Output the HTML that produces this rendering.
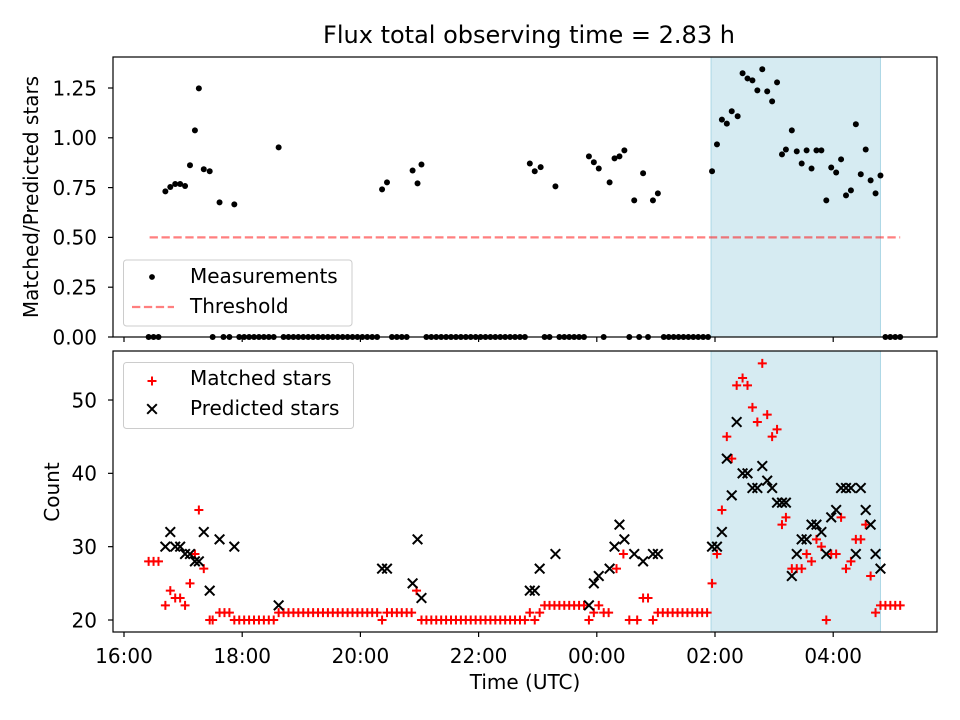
<!DOCTYPE html>
<html><head><meta charset="utf-8"><style>
html,body{margin:0;padding:0;background:#fff;}
svg{display:block;font-family:"DejaVu Sans","Liberation Sans",sans-serif;}
</style></head><body>
<svg id="chart" width="960" height="720" viewBox="0 0 960 720" xmlns="http://www.w3.org/2000/svg"></svg>
<script>
// ---- data (time in minutes since 16:00 UTC) ----
const ratioTimes = [42,47,52,57,62,67,72,76,81,87,97,112,157,262,267,293,298,302,412,417,423,438,472,477,482,493,498,503,508,518,527,537,542,597,602,607,612,617,623,628,633,638,643,648,653,658,663,668,672,678,683,688,693,698,703,708,713,718,723,728,733,738,743,748,753,758,763,768];
const ratioValues = [0.731,0.753,0.768,0.768,0.758,0.862,1.037,1.248,0.842,0.832,0.676,0.666,0.952,0.741,0.776,0.836,0.771,0.866,0.871,0.832,0.853,0.756,0.907,0.877,0.846,0.776,0.897,0.907,0.937,0.686,0.822,0.686,0.721,0.832,0.967,1.091,1.071,1.133,1.108,1.324,1.298,1.288,1.238,1.344,1.233,1.183,1.278,0.917,0.941,1.037,0.932,0.871,0.937,0.846,0.937,0.937,0.686,0.851,0.826,0.892,0.711,0.736,1.068,0.817,0.941,0.786,0.721,0.811];
const zeroTimes = [25,30,35,90,101,107,117,122,127,132,137,142,147,152,162,167,172,177,182,187,192,197,202,207,212,217,222,227,232,237,242,247,252,257,272,277,282,287,307,312,317,322,327,332,337,342,347,352,357,362,367,372,377,382,387,392,397,402,407,427,432,442,447,452,457,462,467,487,513,523,532,548,553,558,563,568,573,578,583,588,593,773,778,783,788];
const zeroValues = zeroTimes.map(()=>0);
const matchedTimes = [25,30,35,42,47,52,57,62,67,72,76,81,87,90,97,102,107,112,117,122,127,132,137,142,147,152,157,162,167,172,177,182,187,192,197,202,207,212,217,222,227,232,237,242,247,252,257,262,267,272,277,282,287,292,297,302,307,312,317,322,327,332,337,342,347,352,357,362,367,372,377,382,387,392,397,402,407,412,417,422,427,432,437,442,447,452,457,462,467,472,477,482,487,492,500,507,513,521,527,532,537,542,547,552,557,562,567,572,577,582,587,592,597,602,607,612,617,622,628,633,638,643,648,653,658,663,668,672,678,683,688,693,698,703,708,713,718,723,728,733,738,743,748,753,758,763,768,773,778,783,788];
const matchedValues = [28,28,28,22,24,23,23,22,25,29,35,27,20,20,21,21,21,20,20,20,20,20,20,20,20,20,21,21,21,21,21,21,21,21,21,21,21,21,21,21,21,21,21,21,21,21,21,20,21,21,21,21,21,21,24,20,20,20,20,20,20,20,20,20,20,20,20,20,20,20,20,20,20,20,20,20,20,21,20,21,22,22,22,22,22,22,22,22,22,20,21,22,21,21,27,29,20,20,23,23,20,21,21,21,21,21,21,21,21,21,21,21,25,29,35,45,42,52,53,52,49,47,55,48,45,46,33,34,27,27,27,29,28,31,30,20,29,29,34,27,28,31,31,33,26,21,22,22,22,22,22];
const predictedTimes = [42,47,52,57,62,67,72,76,81,87,97,112,157,262,267,293,298,302,412,417,422,438,472,477,482,493,498,503,508,518,527,537,542,597,602,607,612,617,622,628,633,638,643,648,653,658,663,668,672,678,683,688,693,698,703,708,713,718,723,728,733,738,743,748,753,758,763,768];
const predictedValues = [30,32,30,30,29,29,28,28,32,24,31,30,22,27,27,25,31,23,24,24,27,29,22,25,26,27,30,33,31,29,28,29,29,30,30,32,42,37,47,40,40,38,38,41,39,38,36,36,36,26,29,31,31,33,33,32,29,34,35,38,38,38,29,38,35,33,29,27];
const threshold = [26, 788, 0.5];
const span = [596, 768];
const xTickMinutes = [0,120,240,360,480,600,720];
const xTickLabels = ["16:00","18:00","20:00","22:00","00:00","02:00","04:00"];
const yTopTicks = [0,0.25,0.5,0.75,1.0,1.25];
const yTopLabels = ["0.00","0.25","0.50","0.75","1.00","1.25"];
const yBotTicks = [20,30,40,50];
const yBotLabels = ["20","30","40","50"];

// ---- scales ----
const L=113,R=937, T1=57,B1=337, T2=351,B2=632;
const FS=20;
const xs = m => 124 + m*59.1/60;
const y1 = v => 337 - v*199.2;
const y2 = v => 620 - (v-20)*7.333;
const svg = document.getElementById('chart');
const NS='http://www.w3.org/2000/svg';
function mk(tag, attrs, parent){const e=document.createElementNS(NS,tag);for(const k in attrs)e.setAttribute(k,attrs[k]);(parent||svg).appendChild(e);return e;}
function txt(s,x,y,attrs,parent){const e=mk('text',Object.assign({x:x,y:y,'font-size':FS,fill:'#000'},attrs),parent);e.textContent=s;return e;}

let t=txt('Flux total observing time = 2.83 h',529,43,{'font-size':24,'text-anchor':'middle'});



[[T1,B1,'top-observing-span'],[T2,B2,'bottom-observing-span']].forEach(([a,b,n])=>{
  const r=mk('rect',{x:xs(span[0]),y:a,width:xs(span[1])-xs(span[0]),height:b-a,fill:'#add8e6','fill-opacity':0.5,stroke:'#add8e6','stroke-width':1});
  
  
});

const th=mk('line',{x1:xs(threshold[0]),x2:xs(threshold[1]),y1:y1(threshold[2]),y2:y1(threshold[2]),stroke:'#ff0000','stroke-opacity':0.5,'stroke-width':2.2,'stroke-dasharray':'8.3 3.6'});



function dot(x,y){const c=mk('circle',{cx:x,cy:y,r:3,fill:'#000'});
  
  }
ratioTimes.forEach((m,i)=>dot(xs(m),y1(ratioValues[i])));
zeroTimes.forEach((m,i)=>dot(xs(m),y1(zeroValues[i])));

function plus(x,y){const p=mk('path',{d:`M${x-4.5},${y}H${x+4.5}M${x},${y-4.5}V${y+4.5}`,stroke:'#ff0000','stroke-width':2,fill:'none'});
  
  }
function cross(x,y){const p=mk('path',{d:`M${x-4.8},${y-4.8}L${x+4.8},${y+4.8}M${x-4.8},${y+4.8}L${x+4.8},${y-4.8}`,stroke:'#000','stroke-width':2,fill:'none'});
  
  }
matchedTimes.forEach((m,i)=>plus(xs(m),y2(matchedValues[i])));
predictedTimes.forEach((m,i)=>cross(xs(m),y2(predictedValues[i])));

[[T1,B1,'top-axes-frame'],[T2,B2,'bottom-axes-frame']].forEach(([a,b,n])=>{
  const r=mk('rect',{x:L,y:a,width:R-L,height:b-a,fill:'none',stroke:'#000','stroke-width':1.2});
  
  
});
xTickMinutes.forEach((m,i)=>{
  const x=xs(m);
  mk('line',{x1:x,x2:x,y1:B1,y2:B1+5,stroke:'#000','stroke-width':1.2});
  mk('line',{x1:x,x2:x,y1:B2,y2:B2+5,stroke:'#000','stroke-width':1.2});
  const e=txt(xTickLabels[i],x,663,{'text-anchor':'middle'});
  
  
});
yTopTicks.forEach((v,i)=>{
  const y=y1(v);
  mk('line',{x1:L-5,x2:L,y1:y,y2:y,stroke:'#000','stroke-width':1.2});
  const e=txt(yTopLabels[i],97,y+7.3,{'text-anchor':'end'});
  
  
});
yBotTicks.forEach((v,i)=>{
  const y=y2(v);
  mk('line',{x1:L-5,x2:L,y1:y,y2:y,stroke:'#000','stroke-width':1.2});
  const e=txt(yBotLabels[i],97,y+7.3,{'text-anchor':'end'});
  
  
});
let xt=txt('Time (UTC)',525,689,{'text-anchor':'middle'});


let yt=txt('Matched/Predicted stars',38,197,{'text-anchor':'middle',transform:'rotate(-90 38 197)'});


let yb=txt('Count',59,492,{'text-anchor':'middle',transform:'rotate(-90 59 492)'});



const lg1=mk('g',{});


mk('rect',{x:123.5,y:260,width:228.5,height:66,rx:3,fill:'#fff','fill-opacity':0.8,stroke:'#ccc','stroke-width':1},lg1);
mk('circle',{cx:152,cy:277,r:2.9,fill:'#000'},lg1);
let e1=txt('Measurements',190,283,{},lg1);


mk('line',{x1:132,x2:174,y1:307,y2:307,stroke:'#ff0000','stroke-opacity':0.5,'stroke-width':2.2,'stroke-dasharray':'8.3 3.6'},lg1);
let e2=txt('Threshold',190,313,{},lg1);



const lg2=mk('g',{});


mk('rect',{x:123.5,y:362.5,width:230,height:66,rx:3,fill:'#fff','fill-opacity':0.8,stroke:'#ccc','stroke-width':1},lg2);
mk('path',{d:'M147.5,381H156.5M152,376.5V385.5',stroke:'#ff0000','stroke-width':2,fill:'none'},lg2);
let e3=txt('Matched stars',190,385,{},lg2);


mk('path',{d:'M147.2,404.2L156.8,413.8M147.2,413.8L156.8,404.2',stroke:'#000','stroke-width':2,fill:'none'},lg2);
let e4=txt('Predicted stars',190,415,{},lg2);


</script>
</body></html>
